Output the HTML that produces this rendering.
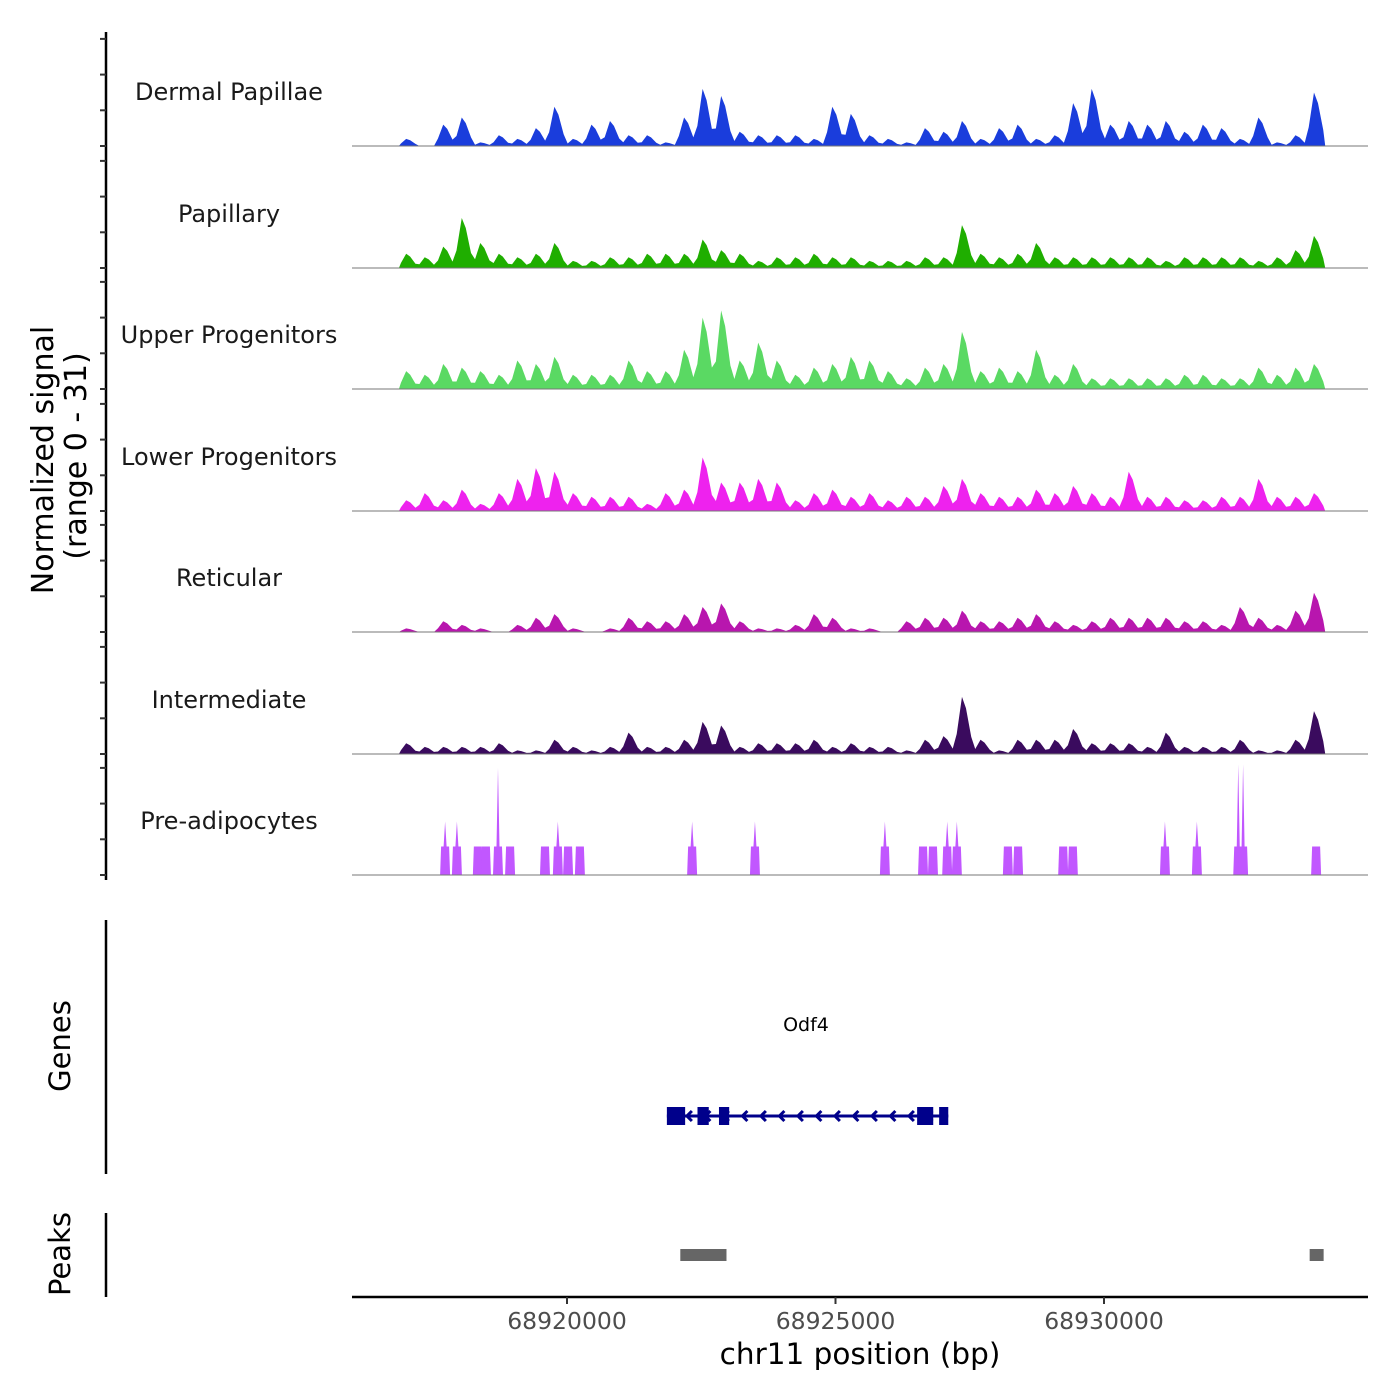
<!DOCTYPE html>
<html><head><meta charset="utf-8"><style>
html,body{margin:0;padding:0;background:#fff;}
svg{display:block;font-family:"DejaVu Sans","Liberation Sans",sans-serif;}
</style></head><body>
<svg id="chart" width="1400" height="1400" viewBox="0 0 1400 1400"></svg>
<script>
// ---- data ----
const tracks = ["Dermal Papillae","Papillary","Upper Progenitors","Lower Progenitors","Reticular","Intermediate","Pre-adipocytes"];
const trackColors = ["#1a3ddc","#1fae00","#5ad963","#ee22ee","#b816ae","#3a0b5e","#c157ff"];
const binStart = 68916870;
const binSize = 345;
const dermalPapillae = [2,0,6,8,1,3,2,5,11,2,6,7,3,3,1,8,16,14,4,3,3,3,2,11,9,3,2,1,5,4,7,2,5,6,2,3,12,16,6,7,6,7,4,6,5,2,8,1,3,15];
const papillary = [4,3,6,14,7,4,3,4,7,2,2,3,3,4,4,4,8,5,4,2,3,3,4,3,3,2,2,2,3,3,12,4,3,4,7,3,3,3,3,3,3,2,3,3,3,3,2,3,5,9];
const upperProgenitors = [5,4,7,6,5,4,8,7,9,4,4,4,8,5,5,11,20,22,8,13,8,4,6,7,9,8,5,3,6,7,16,5,6,5,11,4,7,3,3,3,3,3,4,4,3,3,6,4,6,7];
const lowerProgenitors = [3,5,3,6,2,5,9,12,11,5,4,4,4,2,5,6,15,8,8,9,8,3,5,6,4,5,3,4,4,7,9,5,4,4,6,5,7,5,4,11,4,4,3,3,4,4,9,4,4,5];
const reticular = [1,0,3,2,1,0,2,4,5,1,0,1,4,3,3,5,7,8,3,1,1,2,5,4,1,1,0,3,4,4,6,3,3,4,5,3,2,3,4,4,4,4,3,3,2,7,4,2,6,11];
const intermediate = [3,2,2,2,2,3,1,1,4,2,1,2,6,2,2,4,9,8,2,3,3,3,4,2,3,2,2,1,4,5,16,4,1,4,4,4,7,3,3,3,2,6,2,2,2,4,1,1,4,12];
const preadipPos = [68917730,68917950,68918340,68918490,68918715,68918940,68919590,68919830,68920020,68920240,68922330,68923500,68925920,68926630,68926815,68927080,68927260,68928210,68928400,68929240,68929420,68931135,68931730,68932500,68932590,68933950];
const preadipVal = [15,15,8,8,30,8,8,15,8,8,15,15,15,8,8,15,15,8,8,8,8,15,15,31,31,8];
const xTicks = [68920000,68925000,68930000];
const yTicks = [0,10,20,30];
const geneExons = [[68921860,68922200],[68922430,68922640],[68922830,68923020],[68926520,68926820],[68926930,68927100]];
const geneRange = [68921860,68927100];
const peaks = [[68922110,68922970],[68933830,68934090]];

// ---- scales ----
const X0=352, X1=1368;
function xs(bp){ return 567 + (bp-68920000)*0.0537; }
const baselines=[146,268,389,511,632,754,875];
const pxPerUnit=3.57;
function ys(i,v){ return baselines[i]-v*pxPerUnit; }

const NS="http://www.w3.org/2000/svg";
const svg=document.getElementById('chart');
function mk(tag,attrs,parent){const e=document.createElementNS(NS,tag);for(const k in attrs)e.setAttribute(k,attrs[k]);(parent||svg).appendChild(e);return e;}

// left axis
mk('line',{x1:106,y1:32,x2:106,y2:880,stroke:'#000','stroke-width':2.5,});
baselines.forEach((b,i)=>{
  yTicks.forEach(t=>{
    const t1=mk('line',{x1:100,x2:106,y1:ys(i,t),y2:ys(i,t),stroke:'#333','stroke-width':2});
    
    
  });
});
const yt=mk('text',{x:0,y:0,'font-size':30,'text-anchor':'middle',transform:'translate(53,460) rotate(-90)'});
yt.textContent='Normalized signal';


const yt2=mk('text',{x:0,y:0,'font-size':30,'text-anchor':'middle',transform:'translate(86,456) rotate(-90)'});
yt2.textContent='(range 0 - 31)';



const series=[dermalPapillae,papillary,upperProgenitors,lowerProgenitors,reticular,intermediate];
series.forEach((arr,i)=>{
  let d='M'+xs(binStart)+','+baselines[i];
  arr.forEach((v,j)=>{
    const a=xs(binStart+j*binSize), b=xs(binStart+(j+1)*binSize), m=(a+b)/2;
    d+=' L'+(a+2)+','+ys(i,v*0.35)+' L'+(m-2)+','+ys(i,v)+' L'+(m+2)+','+ys(i,v*0.8)+' L'+(b-2)+','+ys(i,v*0.3);
  });
  d+=' L'+xs(binStart+arr.length*binSize)+','+baselines[i]+' Z';
  const p=mk('path',{d:d,fill:trackColors[i]});
  
  
});
// pre-adipocytes
preadipPos.forEach((bp,j)=>{
  const x=xs(bp), v=preadipVal[j], b=baselines[6];
  const pts=[[x-5,b],[x-4,ys(6,Math.min(v,8))],[x-1.5,ys(6,Math.min(v,8))],[x,ys(6,v)],[x+1.5,ys(6,Math.min(v,8))],[x+4,ys(6,Math.min(v,8))],[x+5,b]];
  const p=mk('polygon',{points:pts.map(q=>q.join(',')).join(' '),fill:trackColors[6]});
  
  
});
tracks.forEach((t,i)=>{
  const l=mk('line',{x1:X0,x2:X1,y1:baselines[i],y2:baselines[i],stroke:'#777','stroke-width':1});
  
  
  const tx=mk('text',{x:229,y:baselines[i]-46,'font-size':24,'text-anchor':'middle',fill:'#1a1a1a'});
  tx.textContent=t;
  
  
});

// genes panel
mk('line',{x1:106,y1:920,x2:106,y2:1174,stroke:'#000','stroke-width':2.5,});
const gt=mk('text',{x:0,y:0,'font-size':29,'text-anchor':'middle',transform:'translate(70,1046) rotate(-90)',});
gt.textContent='Genes';
const gy=1116;
mk('line',{x1:xs(geneRange[0]),x2:xs(geneRange[1]),y1:gy,y2:gy,stroke:'#00008b','stroke-width':3,});
for(let x=xs(geneRange[0])+20;x<xs(geneRange[1])-20;x+=18.5){
  const a=mk('polyline',{points:(x+5)+','+(gy-5)+' '+x+','+gy+' '+(x+5)+','+(gy+5),fill:'none',stroke:'#00008b','stroke-width':3});
  
  
}
geneExons.forEach(e=>{
  const r=mk('rect',{x:xs(e[0]),y:gy-9,width:xs(e[1])-xs(e[0]),height:18,fill:'#00008b'});
  
  
});
const gl=mk('text',{x:806,y:1031,'font-size':19,'text-anchor':'middle',});
gl.textContent='Odf4';

// peaks panel
mk('line',{x1:106,y1:1213,x2:106,y2:1297,stroke:'#000','stroke-width':2.5,});
const pt=mk('text',{x:0,y:0,'font-size':29,'text-anchor':'middle',transform:'translate(70,1254) rotate(-90)',});
pt.textContent='Peaks';
peaks.forEach(p=>{
  const r=mk('rect',{x:xs(p[0]),y:1249,width:xs(p[1])-xs(p[0]),height:12,fill:'#666'});
  
  
});

// x axis
mk('line',{x1:X0,x2:X1,y1:1297,y2:1297,stroke:'#000','stroke-width':2.5,});
xTicks.forEach(t=>{
  const l=mk('line',{x1:xs(t),x2:xs(t),y1:1297,y2:1304,stroke:'#333','stroke-width':2});
  
  
  const tx=mk('text',{x:xs(t),y:1329,'font-size':23.5,'text-anchor':'middle',fill:'#4d4d4d'});
  tx.textContent=String(t);
  
  
});
const xt=mk('text',{x:860,y:1364,'font-size':29.5,'text-anchor':'middle',});
xt.textContent='chr11 position (bp)';
</script>
</body></html>
